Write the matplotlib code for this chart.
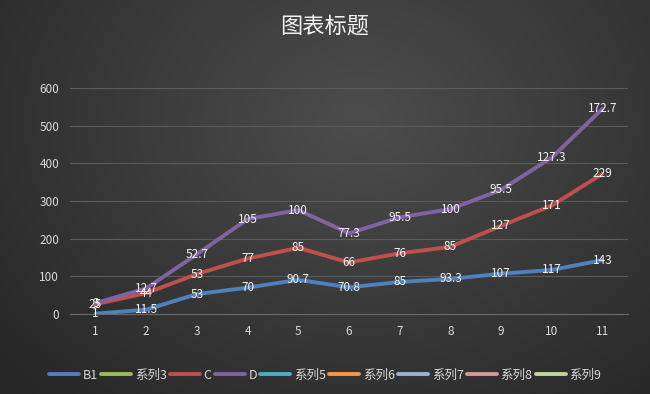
import matplotlib.pyplot as plt
import numpy as np

plt.rcParams['font.family'] = ['Noto Sans CJK SC', 'DejaVu Sans']

x_labels = ['1', '2', '3', '4', '5', '6', '7', '8', '9', '10', '11']
b1 = [1, 11.5, 53, 70, 90.7, 70.8, 85, 93.3, 107, 117, 143]
c = [25, 44, 53, 77, 85, 66, 76, 85, 127, 171, 229]
d = [3, 12.7, 52.7, 105, 100, 77.3, 95.5, 100, 95.5, 127.3, 172.7]

legend_names = ['B1', '系列3', 'C', 'D', '系列5', '系列6', '系列7', '系列8', '系列9']
legend_colors = ['#4f81bd', '#9bbb59', '#c0504d', '#8064a2', '#4bacc6',
                 '#f79646', '#95b3d7', '#d99694', '#c3d69b']


def main():
    fig = plt.figure(figsize=(6.5, 3.94), dpi=100)

    # dark radial background
    bg = fig.add_axes([0, 0, 1, 1], zorder=-10)
    yy, xx = np.mgrid[0:394, 0:650]
    r = np.sqrt(((xx - 360) / 420.0) ** 2 + ((yy - 120) / 330.0) ** 2)
    shade = np.clip(0.30 - 0.13 * r, 0.15, 0.30)
    bg.imshow(np.dstack([shade] * 3), aspect='auto', extent=[0, 1, 0, 1])
    bg.axis('off')

    ax = fig.add_axes([0.108, 0.203, 0.858, 0.574])
    ax.patch.set_alpha(0)

    xs = np.arange(len(x_labels))
    stacked = np.cumsum([b1, c, d], axis=0)
    series = [(b1, stacked[0], '#4f81bd'), (c, stacked[1], '#c0504d'),
              (d, stacked[2], '#8064a2')]
    for vals, ys, col in series:
        ax.plot(xs, ys, color=col, lw=2.8, solid_capstyle='round', zorder=3)
        for xi, yi, v in zip(xs, ys, vals):
            ax.text(xi, yi, f'{v:g}', color='#f2f2f2', fontsize=8.5,
                    ha='center', va='center', zorder=4)

    ax.set_xlim(-0.5, len(x_labels) - 0.5)
    ax.set_ylim(0, 600)
    ax.set_yticks(range(0, 601, 100))
    ax.set_xticks(xs)
    ax.set_xticklabels(x_labels)
    ax.grid(axis='y', color='#5c5c5c', lw=0.8)
    ax.set_axisbelow(True)
    for s in ['top', 'right', 'left']:
        ax.spines[s].set_visible(False)
    ax.spines['bottom'].set_color('#6a6a6a')
    ax.tick_params(length=0, colors='#d9d9d9', labelsize=8.5, pad=8)

    fig.text(0.5, 0.935, '图表标题', color='#f2f2f2', fontsize=16,
             ha='center', va='center')

    handles = [plt.Line2D([], [], color=col, lw=2.8, solid_capstyle='round')
               for col in legend_colors]
    fig.legend(handles, legend_names, loc='center', ncol=9,
               bbox_to_anchor=(0.5, 0.048), frameon=False,
               handlelength=2.4, handletextpad=0.3, columnspacing=0.25,
               fontsize=9, labelcolor='#d9d9d9')

    fig.savefig('out.png', dpi=100)


if __name__ == '__main__':
    main()
